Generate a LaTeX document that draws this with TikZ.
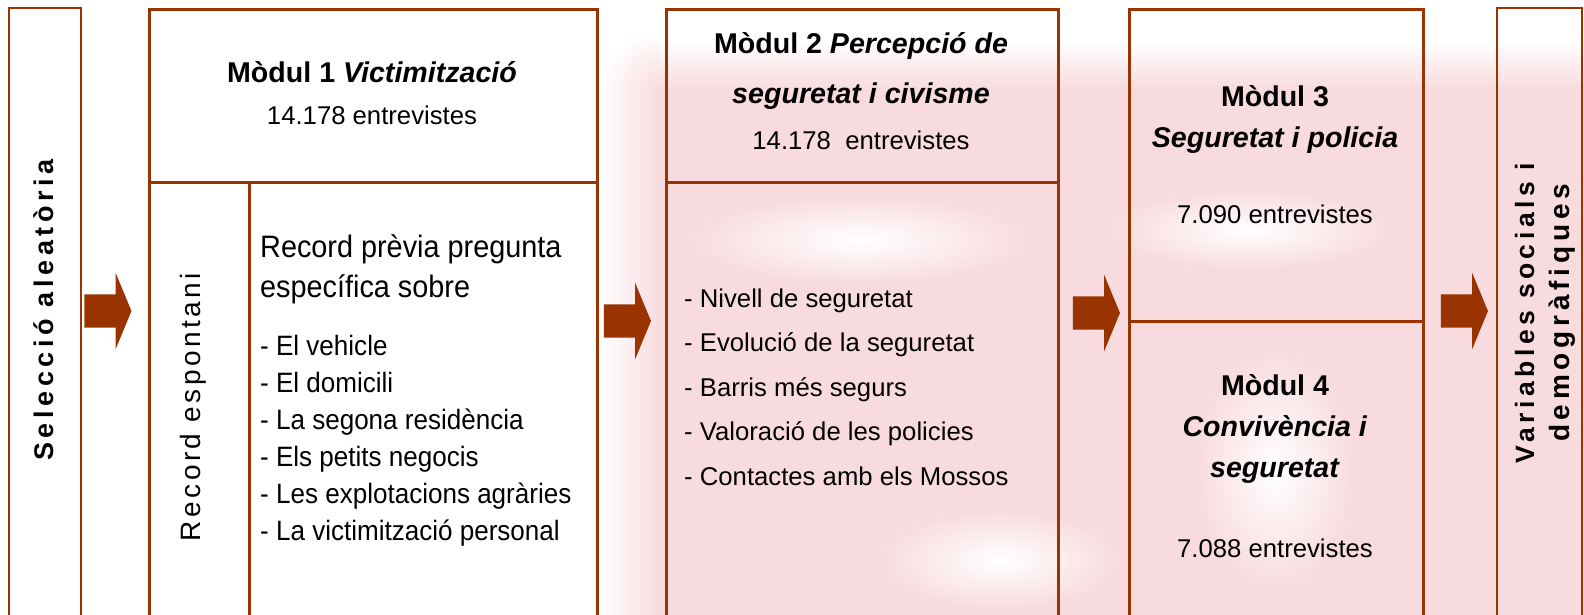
\documentclass[tikz,border=0pt]{standalone}
\usepackage{fontspec}
\setmainfont{Liberation Sans}
\newfontfamily\narrowfont[FakeStretch=0.93]{Liberation Sans}
\newfontfamily\spacedfont[LetterSpace=12.5]{Liberation Sans}
\newfontfamily\widefont[LetterSpace=17]{Liberation Sans}
\usetikzlibrary{shapes.arrows,positioning}
\definecolor{rust}{RGB}{153,51,0}
\definecolor{bgpink}{RGB}{248,219,222}
\tikzset{
    thinbox/.style={
        draw=rust,
        line width=1.6pt,
        anchor=north west,
        inner sep=0pt
    },
    modbox/.style={
        draw=rust,
        line width=3pt,
        anchor=north west,
        inner sep=0pt
    },
    blockarrow/.style={
        single arrow,
        fill=rust,
        draw=none,
        minimum height=47pt,
        inner xsep=0pt,
        inner ysep=16.5pt,
        single arrow head extend=21.5pt,
        single arrow tip angle=135
    },
    title/.style={
        align=center,
        font=\fontsize{28.6}{#1}\selectfont\bfseries
    },
    title/.default=41,
    count/.style={
        align=center,
        font=\fontsize{25.7}{30}\selectfont
    },
    items/.style={
        align=left,
        anchor=west,
        inner sep=0pt
    },
    haze/.style={
        inner color=white,
        outer color=bgpink
    }
}

\begin{document}
\begin{tikzpicture}[x=1pt,y=1pt]
        \useasboundingbox (0,0) rectangle (1584,-615);
        \clip (0,0) rectangle (1584,-615);
        \fill[bgpink] (660,-615) rectangle (1584,-90);
        \shade[left color=white, right color=bgpink] (600,-615) rectangle (660,-90);
        \shade[top color=white, bottom color=bgpink] (660,-40) rectangle (1584,-90);
        \begin{scope}
            \clip (600,-40) rectangle (660,-90);
            \shade[inner color=bgpink, outer color=white] (660,-90) circle (60);
        \end{scope}
        \shade[haze] (1275,-470) ellipse (80 and 120);
        \shade[haze] (860,-240) ellipse (170 and 45);
        \shade[haze] (1000,-560) ellipse (120 and 50);
        \shade[haze] (1250,-230) ellipse (140 and 40);

        \node[thinbox, minimum width=72pt, minimum height=609pt] (sel) at (8,-7) {};
        \node[modbox, minimum width=448pt, minimum height=173pt] (m1head) at (148,-8) {};
        \node[modbox, minimum width=100pt, minimum height=435pt] (m1side) at (148,-181) {};
        \node[modbox, minimum width=348pt, minimum height=435pt] (m1body) at (248,-181) {};
        \node[modbox, minimum width=392pt, minimum height=173pt] (m2head) at (665,-8) {};
        \node[modbox, minimum width=392pt, minimum height=435pt] (m2body) at (665,-181) {};
        \node[modbox, minimum width=294pt, minimum height=312pt] (m3) at (1128,-8) {};
        \node[modbox, minimum width=294pt, minimum height=296pt] (m4) at (1128,-320) {};
        \node[thinbox, minimum width=85pt, minimum height=609pt] (vars) at (1496,-7) {};

        \node[blockarrow] (a1) at (104.5,-311) {};
        \node[blockarrow] (a2) at (624,-321) {};
        \node[blockarrow] (a3) at (1093,-313) {};
        \node[blockarrow] (a4) at (1461,-311) {};

        \node[rotate=90, font=\widefont\bfseries\fontsize{27}{30}\selectfont] (selt) at (44,-310) {Selecció aleatòria};

        \node[title] (m1t) at (372,-72) {Mòdul 1 \textit{Victimització}};
        \node[count] (m1c) at (372,-115) {14.178 entrevistes};
        \node[rotate=90, font=\spacedfont\fontsize{28}{30}\selectfont] (m1st) at (193,-407) {Record espontani};
        \node[items, font=\narrowfont\fontsize{31}{40}\selectfont] (m1q) at (260,-269) {Record prèvia pregunta\\específica sobre};
        \node[items, font=\narrowfont\fontsize{28}{37}\selectfont] (m1l) at (260,-441) {- El vehicle\\- El domicili\\- La segona residència\\- Els petits negocis\\- Les explotacions agràries\\- La victimització personal};

        \node[title=50] (m2t) at (861,-71) {Mòdul 2 \textit{Percepció de}\\\textit{seguretat i civisme}};
        \node[count] (m2c) at (861,-140) {14.178\ \ entrevistes};
        \node[items, font=\fontsize{25.7}{44.5}\selectfont] (m2l) at (684,-387) {- Nivell de seguretat\\- Evolució de la seguretat\\- Barris més segurs\\- Valoració de les policies\\- Contactes amb els Mossos};

        \node[title] (m3t) at (1275,-119.5) {Mòdul 3\\\textit{Seguretat i policia}};
        \node[count] (m3c) at (1275,-214) {7.090 entrevistes};
        \node[title] (m4t) at (1275,-429) {Mòdul 4\\\textit{Convivència i}\\\textit{seguretat}};
        \node[count] (m4c) at (1275,-548) {7.088 entrevistes};

        \node[rotate=90, align=center, font=\widefont\bfseries\fontsize{26.5}{35}\selectfont] (varst) at (1545,-313) {Variables socials i\\{\fontsize{28}{35}\selectfont demogràfiques}};
    \end{tikzpicture}
\end{document}
